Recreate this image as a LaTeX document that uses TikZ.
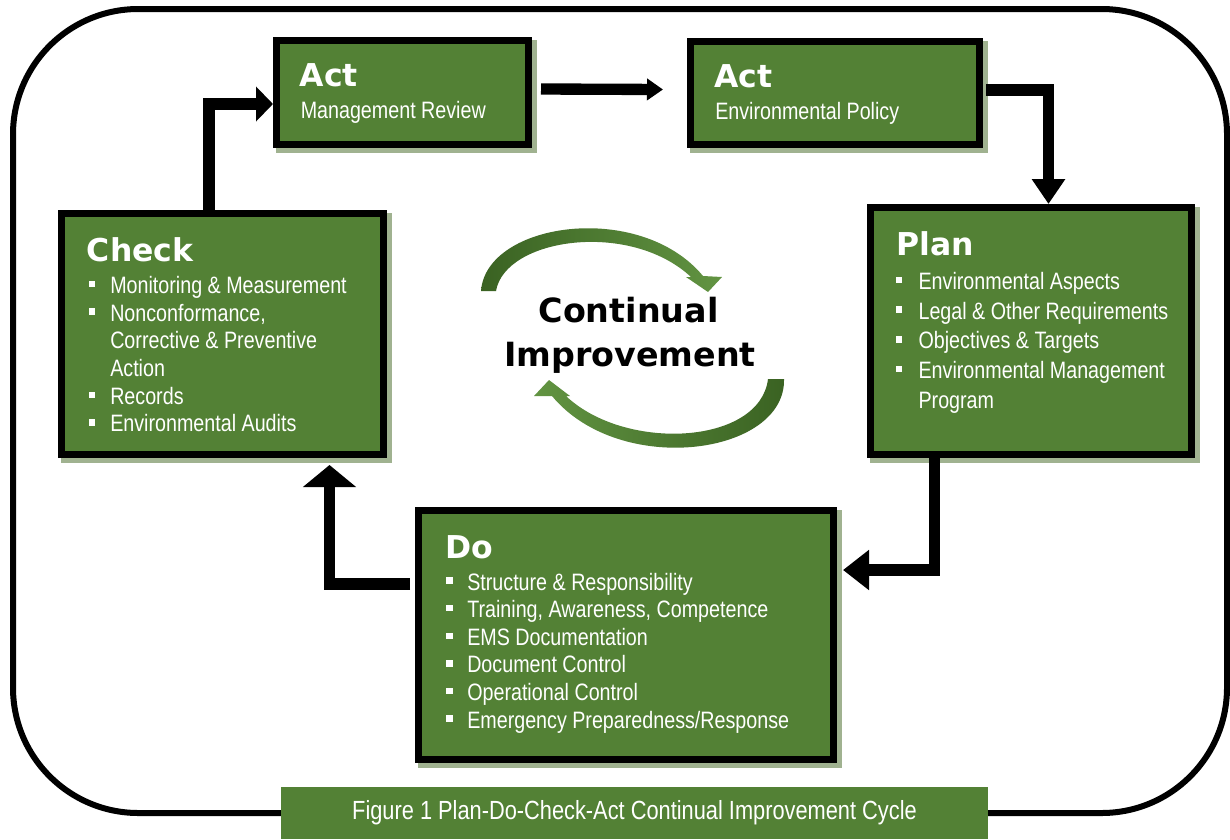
\documentclass[tikz,border=0pt]{standalone}
\usepackage{fontspec}
\usetikzlibrary{arrows.meta,backgrounds,calc}
\setmainfont{Liberation Sans}
\newfontfamily\narrowfont{Liberation Sans}[FakeStretch=0.83]
\newfontfamily\headfont{DejaVu Sans}
\definecolor{boxgreen}{RGB}{83,129,53}
\definecolor{shadowgreen}{RGB}{160,178,144}
\definecolor{arcdark}{RGB}{58,98,34}
\definecolor{arclight}{RGB}{98,148,66}
\newcommand\bul[2]{\fill[white] (#1-3.2,#2-12.6) rectangle (#1+3.2,#2-6.2);}
\begin{document}
\begin{tikzpicture}[x=0.75pt,y=-0.75pt,
  box/.style={draw=black, line width=5.25pt, fill=boxgreen, inner sep=0pt},
  head/.style={text=white, font=\headfont\bfseries\fontsize{23.6}{28}\selectfont, inner sep=0pt, anchor=base west},
  item/.style={text=white, font=\narrowfont\fontsize{17.8}{20}\selectfont, inner sep=0pt, anchor=base west},
  bigword/.style={text=black, font=\headfont\bfseries\fontsize{25}{30}\selectfont, inner sep=0pt, anchor=base},
  conn/.style={draw=black, line width=8.5pt},
  frame/.style={draw=black, line width=4.5pt, rounded corners=94pt},
]
\useasboundingbox (0,0) rectangle (1230,839);

% outer frame
\draw[frame] (13,9) rectangle (1227,813);

% boxes
\node[box, minimum width=252*0.75pt, minimum height=104*0.75pt] (mr) at (402.5,92.5) {};
\node[box, minimum width=289*0.75pt, minimum height=103*0.75pt] (ep) at (835,93) {};
\node[box, minimum width=321*0.75pt, minimum height=247*0.75pt] (plan) at (1031,331) {};
\node[box, minimum width=322*0.75pt, minimum height=241*0.75pt] (chk) at (222.5,334) {};
\node[box, minimum width=415*0.75pt, minimum height=249*0.75pt] (do) at (626,635) {};

\begin{scope}[on background layer]
  \fill[white] (0,0) rectangle (1230,839);
  \foreach \n in {mr,ep,plan,chk,do}{
    \fill[shadowgreen] ([shift={(3,3)}]\n.north west) rectangle ([shift={(4.5,5)}]\n.south east);
  }
\end{scope}

% connectors
\draw[conn, -{Triangle[width=25.5pt,length=12.75pt]}]
  ([shift={(-13.5,0)}]chk.north) |- ([shift={(0,11.5)}]mr.west);
\draw[conn, -{Triangle[width=15.75pt,length=12pt]}]
  ([shift={(9,-3.5)}]mr.east) -- ([shift={(-24,-3.5)}]ep.west);
\draw[conn, -{Triangle[width=24pt,length=18.75pt]}]
  ([shift={(3,-3)}]ep.east) -| ([shift={(17.5,0)}]plan.north);
\draw[conn, -{Triangle[width=29pt,length=19.5pt]}]
  ([shift={(-96.5,0)}]plan.south) |- ([shift={(6,-65)}]do.east);
\draw[conn, -{Triangle[width=39pt,length=16.5pt]}]
  ([shift={(-5,-51)}]do.west) -| ([shift={(107,7)}]chk.south);

% Act - Management Review
\node[head] (mrh) at (299.5,86.5) {Act};
\node[item] (mrt) at (300.5,118.5) {Management Review};
% Act - Environmental Policy
\node[head] (eph) at (714,87) {Act};
\node[item] (ept) at (715,119) {Environmental Policy};

% Plan
\node[head] (planh) at (896,255) {Plan};
\node[item] (plan1) at (918.3,289.3) {Environmental Aspects};
\node[item] (plan2) at (918.3,319.05) {Legal \& Other Requirements};
\node[item] (plan3) at (918.3,348.8) {Objectives \& Targets};
\node[item] (plan4) at (918.3,378.55) {Environmental Management};
\node[item] (plan5) at (918.3,408.3) {Program};
\bul{899}{289.3}\bul{899}{319.05}\bul{899}{348.8}\bul{899}{378.55}

% Check
\node[head] (chkh) at (86.7,261.7) {Check};
\node[item] (chk1) at (110,293.3) {Monitoring \& Measurement};
\node[item] (chk2) at (110,321.0) {Nonconformance,};
\node[item] (chk3) at (110,348.7) {Corrective \& Preventive};
\node[item] (chk4) at (110,376.4) {Action};
\node[item] (chk5) at (110,404.1) {Records};
\node[item] (chk6) at (110,431.8) {Environmental Audits};
\bul{91.7}{293.3}\bul{91.7}{321.0}\bul{91.7}{404.1}\bul{91.7}{431.8}

% Do
\node[head] (doh) at (445,558) {Do};
\node[item] (do1) at (467,590) {Structure \& Responsibility};
\node[item] (do2) at (467,617.6) {Training, Awareness, Competence};
\node[item] (do3) at (467,645.2) {EMS Documentation};
\node[item] (do4) at (467,672.8) {Document Control};
\node[item] (do5) at (467,700.4) {Operational Control};
\node[item] (do6) at (467,728) {Emergency Preparedness/Response};
\foreach \yy in {590,617.6,645.2,672.8,700.4,728}{\bul{449.5}{\yy}}

% Continual improvement
\shade[left color=arcdark, right color=arclight]
  (481,291) .. controls (486,222) and (640,200) .. (703,276)
  -- (722,277) -- (708,292) -- (686,277) -- (691,277)
  .. controls (630,220) and (505,238) .. (496,291) -- cycle;
\shade[left color=arclight, right color=arcdark]
  (784,379) .. controls (786,455) and (620,478) .. (552,396)
  -- (534,396) -- (549,380) -- (570,396) -- (566,396)
  .. controls (625,452) and (760,445) .. (768,379) -- cycle;
\node[bigword] (ci1) at (628.5,322) {Continual};
\node[bigword] (ci2) at (630,366) {Improvement};

% caption
\fill[boxgreen] (281,787) rectangle (988,839);
\node[text=white, font=\narrowfont\fontsize{19.7}{22}\selectfont, inner sep=0pt] (cap) at (634.5,813) {Figure 1 Plan-Do-Check-Act Continual Improvement Cycle};
\end{tikzpicture}
\end{document}
